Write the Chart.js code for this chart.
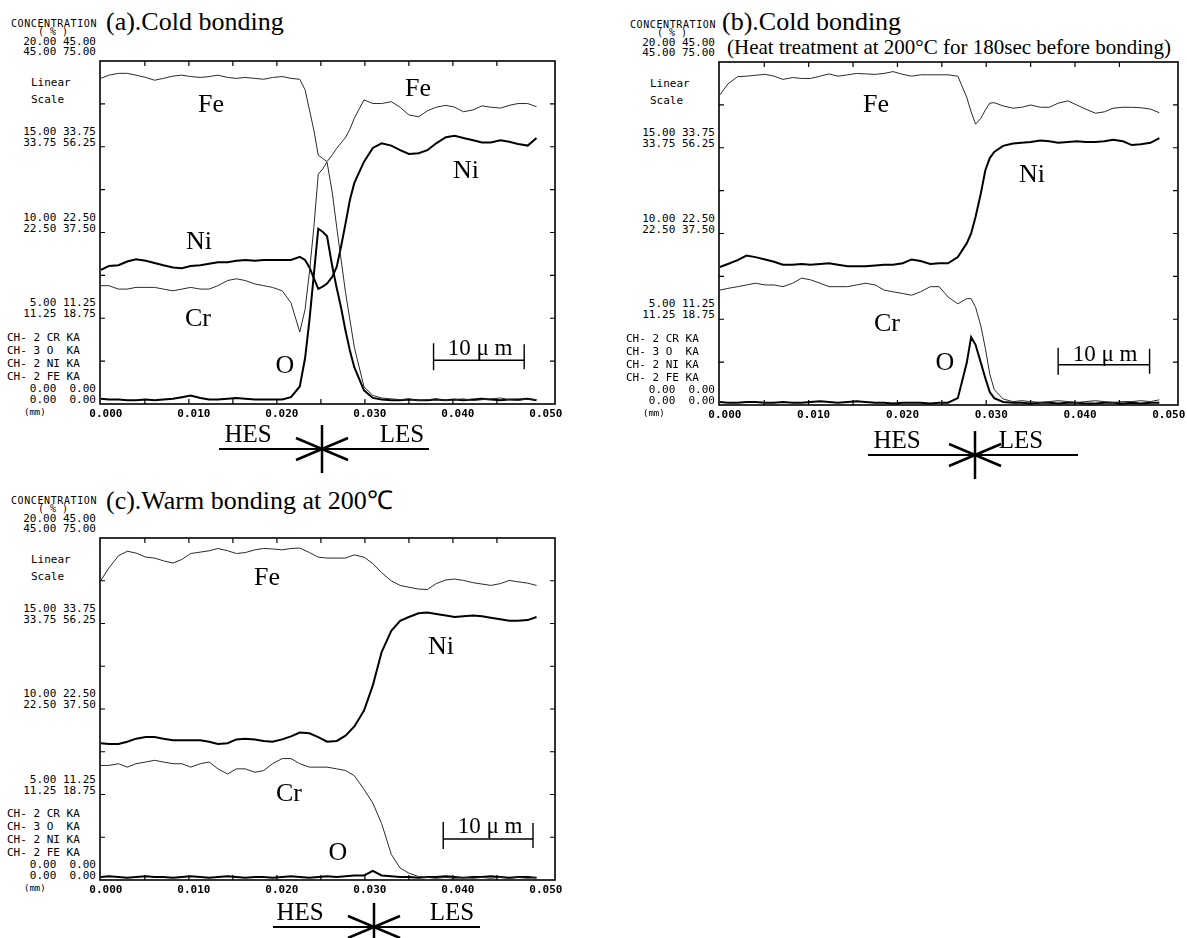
<!DOCTYPE html>
<html>
<head>
<meta charset="utf-8">
<script src="https://cdn.jsdelivr.net/npm/chart.js@4.4.1/dist/chart.umd.min.js"></script>
<style>
  html, body { margin: 0; padding: 0; background: #fff; }
  body { position: relative; width: 1187px; height: 938px; overflow: hidden; }
  .t { position: absolute; white-space: pre; line-height: 1; color: #000; }
  .m { font-family: "DejaVu Sans Mono", monospace; font-size: 11px; }
  .s { font-family: "Liberation Serif", "Times New Roman", serif; }
  canvas { position: absolute; }
  #marks { position: absolute; left: 0; top: 0; }
</style>
</head>
<body>
<svg id="marks" width="1187" height="938"></svg>
<script>
//------------------------------------------ DATA ------------------------------------------

// full scale of each channel (%)
const CR_FS = 20
const O_FS = 45
const NI_FS = 45
const FE_FS = 75

const channels = ['CH- 2 CR KA', 'CH- 3 O  KA', 'CH- 2 NI KA', 'CH- 2 FE KA']
const xTickValues = [0, 0.01, 0.02, 0.03, 0.04, 0.05]
const scaleFractions = [0.75, 0.5, 0.25]

// (a) cold bonding, distance in mm
const posA = [0.0000,0.0009,0.0020,0.0030,0.0040,0.0051,0.0061,0.0071,0.0082,0.0092,0.0102,0.0113,0.0123,0.0133,0.0144,0.0154,0.0164,0.0175,0.0185,0.0195,0.0206,0.0216,0.0226,
  0.0232,0.0237,0.0242,0.0247,0.0252,0.0257,0.0263,0.0268,0.0273,0.0278,0.0283,
  0.0288,0.0299,0.0309,0.0319,0.0330,0.0340,0.0350,0.0361,0.0371,0.0381,0.0392,0.0402,0.0412,0.0423,0.0433,0.0443,0.0454,0.0464,0.0474,0.0485,0.0495]
const feA = [71.2,71.9,72.3,72.3,71.9,71.4,70.8,71.2,71.7,71.9,71.6,71.4,71.6,71.9,71.4,71.2,71.4,71.2,71.0,71.4,71.6,71.2,71.0,
  68.7,64.3,59.9,54.4,53.7,53.0,54.5,55.9,57.1,58.3,60.1,
  62.5,66.5,65.7,65.7,66.1,64.9,63.2,62.8,64.1,64.9,65.3,64.9,63.9,64.3,65.2,64.9,64.7,65.3,65.7,65.7,65.0]
const niA = [17.6,18.1,18.2,18.7,19.0,18.8,18.5,18.2,17.9,17.8,18.1,18.2,18.4,18.6,18.6,18.8,18.9,18.8,18.9,18.9,18.9,18.9,19.3,
  18.9,17.9,16.5,15.1,15.4,15.8,16.7,18.0,20.7,23.7,26.8,
  29.0,31.8,33.6,34.2,33.9,33.3,32.8,32.9,33.3,34.2,35.0,35.2,34.9,34.6,34.3,34.3,34.6,34.4,34.1,33.9,34.9]
const crA = [6.9,6.9,6.7,6.7,6.8,6.8,6.8,6.7,6.6,6.7,6.8,6.7,6.7,6.9,7.2,7.3,7.2,7.0,6.9,6.8,6.6,5.9,4.2,
  5.5,7.7,10.3,13.4,13.7,14.1,12.3,10.3,8.4,6.5,4.9,
  3.3,1.0,0.5,0.35,0.3,0.25,0.3,0.2,0.25,0.3,0.2,0.25,0.3,0.2,0.25,0.3,0.35,0.25,0.2,0.3,0.25]
const oA = [0.7,0.6,0.6,0.5,0.5,0.6,0.5,0.6,0.7,0.9,1.1,0.8,0.6,0.6,0.7,0.8,0.7,0.6,0.6,0.6,0.6,0.9,2.3,
  6.0,11.0,17.0,23.0,22.6,22.0,18.0,15.2,12.6,9.6,7.0,
  4.8,1.8,0.8,0.6,0.5,0.5,0.6,0.5,0.5,0.6,0.5,0.6,0.5,0.6,0.7,0.6,0.5,0.6,0.6,0.7,0.5]

// (b) cold bonding after heat treatment
const posB = [0.0000,0.0009,0.0020,0.0030,0.0040,0.0051,0.0061,0.0071,0.0082,0.0092,0.0102,0.0113,0.0123,0.0133,0.0144,0.0154,0.0164,0.0175,0.0185,0.0195,0.0206,0.0216,0.0226,0.0237,0.0247,0.0257,0.0268,0.0278,
  0.0283,0.0288,0.0294,0.0299,0.0304,
  0.0309,0.0319,0.0330,0.0340,0.0350,0.0361,0.0371,0.0381,0.0392,0.0402,0.0412,0.0423,0.0433,0.0443,0.0454,0.0464,0.0474,0.0485,0.0495]
const feB = [67.8,70.2,71.8,71.9,72.1,72.3,71.9,71.2,71.6,71.4,71.4,71.9,72.4,71.9,72.2,72.5,72.4,72.3,72.5,72.9,72.3,71.9,72.2,72.2,72.2,72.2,71.9,67.3,
  64.1,61.4,62.7,64.5,66.0,
  66.1,65.4,64.9,65.1,65.6,65.1,65.1,66.0,66.5,65.6,64.7,63.8,64.1,64.9,65.1,65.1,65.0,64.7,63.9]
const niB = [18.1,18.5,19.0,19.6,19.4,19.1,18.8,18.4,18.4,18.5,18.4,18.5,18.6,18.4,18.2,18.2,18.2,18.3,18.4,18.4,18.6,19.1,18.9,18.5,18.6,18.6,19.4,21.2,
  22.5,24.7,27.8,30.8,32.4,
  33.2,34.0,34.3,34.4,34.5,34.7,34.6,34.4,34.5,34.6,34.5,34.5,34.6,34.8,34.6,34.1,34.2,34.4,35.0]
const crB = [6.7,6.8,6.9,7.0,7.1,7.0,7.0,6.9,7.1,7.4,7.3,7.1,6.9,6.9,6.9,7.0,7.1,7.0,6.7,6.6,6.5,6.4,6.6,6.9,6.9,6.3,5.9,6.2,
  6.2,5.7,4.6,3.3,1.8,
  0.9,0.35,0.2,0.25,0.2,0.15,0.2,0.25,0.2,0.15,0.2,0.25,0.2,0.15,0.2,0.2,0.25,0.2,0.3]
const oB = [0.4,0.3,0.3,0.4,0.4,0.3,0.3,0.4,0.3,0.3,0.4,0.5,0.4,0.3,0.4,0.5,0.4,0.3,0.3,0.2,0.3,0.3,0.3,0.2,0.3,0.3,0.9,5.5,
  8.9,7.9,5.5,3.5,1.7,
  0.9,0.4,0.3,0.3,0.2,0.3,0.3,0.2,0.3,0.3,0.2,0.2,0.3,0.3,0.2,0.3,0.2,0.3,0.3]

// (c) warm bonding at 200 C
const posC = [0.0000,0.0009,0.0020,0.0030,0.0040,0.0051,0.0061,0.0071,0.0082,0.0092,0.0102,0.0113,0.0123,0.0133,0.0144,0.0154,0.0164,0.0175,0.0185,0.0195,0.0206,0.0216,0.0226,0.0237,0.0247,
  0.0257,0.0268,0.0278,0.0288,0.0299,0.0309,0.0319,0.0330,0.0340,0.0350,0.0361,0.0371,0.0381,0.0392,0.0402,0.0412,0.0423,0.0433,0.0443,0.0454,0.0464,0.0474,0.0485,0.0495]
const feC = [65.7,68.4,71.1,72.1,71.7,70.8,70.6,70.0,69.5,70.3,71.6,71.9,72.2,72.7,72.2,71.6,71.8,72.4,72.7,72.6,72.4,72.7,72.8,71.8,70.8,
  70.6,70.6,70.6,71.3,70.8,69.4,67.4,65.6,64.6,64.2,63.8,63.7,65.0,65.8,66.0,65.7,65.2,64.9,64.6,65.0,65.7,65.4,65.1,64.6]
const niC = [18.0,17.9,17.9,18.2,18.6,18.8,18.8,18.6,18.4,18.4,18.4,18.4,18.2,17.9,18.0,18.5,18.6,18.5,18.3,18.2,18.5,18.9,19.4,19.3,18.8,
  18.2,18.3,19.0,20.2,22.3,25.6,30.0,32.8,34.1,34.6,35.1,35.2,35.0,34.8,34.6,34.7,34.8,34.7,34.5,34.3,34.1,34.1,34.2,34.6]
const crC = [6.7,6.7,6.8,6.6,6.8,6.9,7.0,6.9,6.8,6.8,6.6,6.8,6.9,6.5,6.2,6.5,6.5,6.3,6.4,6.8,7.1,7.1,6.8,6.6,6.6,
  6.6,6.5,6.4,6.1,5.3,4.5,3.3,1.5,0.7,0.4,0.2,0.15,0.1,0.15,0.1,0.15,0.1,0.15,0.1,0.15,0.1,0.15,0.1,0.15]
const oC = [0.4,0.5,0.4,0.3,0.4,0.5,0.4,0.4,0.3,0.4,0.5,0.4,0.3,0.4,0.5,0.4,0.3,0.4,0.4,0.3,0.4,0.5,0.4,0.3,0.4,
  0.5,0.4,0.5,0.6,0.6,1.2,0.6,0.5,0.4,0.4,0.3,0.4,0.4,0.5,0.4,0.3,0.4,0.4,0.5,0.4,0.3,0.4,0.4,0.3]

//------------------------------------------ TEXT HELPERS ------------------------------------------

const marks = document.getElementById('marks')
let svg = ''

function put(str, x, y, cls, size, align){
    const d = document.createElement('div')
    d.className = 't ' + cls
    if(size) d.style.fontSize = size + 'px'
    d.textContent = str
    d.style.left = x + 'px'
    d.style.top = y + 'px'
    let tx = align == 'r' ? '-100%' : align == 'c' ? '-50%' : '0'
    d.style.transform = `translate(${tx},-50%)`
    document.body.appendChild(d)
    return d
}

function fmt(v){ return v.toFixed(2).padStart(5) }

// the plotter's text block left of each plot
function leftBlock(L, T, B){
    const H = B - T
    let c = put('CONCENTRATION', L - 46, T - 37, 'm', 10, 'c')
    c.style.letterSpacing = '0.6px'
    put('( % )', L - 47, T - 29, 'm', 10, 'c')
    put(fmt(CR_FS) + ' ' + fmt(O_FS), L - 4, T - 20, 'm', 11, 'r')
    put(fmt(NI_FS) + ' ' + fmt(FE_FS), L - 4, T - 10, 'm', 11, 'r')
    put('Linear', L - 69, T + 21, 'm', 11, 'l')
    put('Scale', L - 69, T + 38, 'm', 11, 'l')
    for(let f of scaleFractions){
        let ty = B - f * H
        put(fmt(CR_FS * f) + ' ' + fmt(O_FS * f), L - 4, ty - 16, 'm', 11, 'r')
        put(fmt(NI_FS * f) + ' ' + fmt(FE_FS * f), L - 4, ty - 5, 'm', 11, 'r')
    }
    channels.forEach((ch, i) => put(ch, L - 93, B - 67 + i * 13, 'm', 11, 'l'))
    put(fmt(0) + ' ' + fmt(0), L - 4, B - 16, 'm', 11, 'r')
    put(fmt(0) + ' ' + fmt(0), L - 4, B - 5, 'm', 11, 'r')
    put('(mm)', L - 76, B + 8, 'm', 9, 'l')
}

// HES / LES marker under each plot
function hesLes(x0, x1, y, cx, hesX, lesX, ty){
    put('HES', hesX, ty, 's', 25, 'c')
    put('LES', lesX, ty, 's', 25, 'c')
    svg += `<line x1="${x0}" y1="${y}" x2="${x1}" y2="${y}" stroke="#000" stroke-width="2"/>`
    svg += `<line x1="${cx}" y1="${y - 24}" x2="${cx}" y2="${y + 24}" stroke="#000" stroke-width="2.5"/>`
    svg += `<line x1="${cx - 26}" y1="${y - 11}" x2="${cx + 26}" y2="${y + 11}" stroke="#000" stroke-width="2.5"/>`
    svg += `<line x1="${cx - 26}" y1="${y + 11}" x2="${cx + 26}" y2="${y - 11}" stroke="#000" stroke-width="2.5"/>`
}

//------------------------------------------ CHART ------------------------------------------

const framePlugin = {
    id: 'frame',
    afterDatasetsDraw(chart, args, opts){
        const {ctx, chartArea: {left, top, right, bottom}, scales} = chart
        ctx.save()
        ctx.strokeStyle = '#000'
        ctx.lineWidth = 1.6
        ctx.strokeRect(left, top, right - left, bottom - top)
        ctx.lineWidth = 1.2
        ctx.beginPath()
        for(let i = 1; i < 10; i++){
            let px = scales.x.getPixelForValue(i * 0.005)
            ctx.moveTo(px, top); ctx.lineTo(px, top + 5)
            ctx.moveTo(px, bottom); ctx.lineTo(px, bottom - 5)
        }
        for(let i = 1; i < 8; i++){
            let py = scales.yCr.getPixelForValue(i * CR_FS / 8)
            ctx.moveTo(left, py); ctx.lineTo(left + 5, py)
            ctx.moveTo(right, py); ctx.lineTo(right - 5, py)
        }
        ctx.stroke()
        // 10 um scale bar
        let b = opts.bar
        let x0 = scales.x.getPixelForValue(b[0])
        let x1 = scales.x.getPixelForValue(b[1])
        let y = scales.yCr.getPixelForValue(b[2])
        ctx.lineWidth = 1.4
        ctx.beginPath()
        ctx.moveTo(x0, y); ctx.lineTo(x1, y)
        ctx.moveTo(x0, y - 17); ctx.lineTo(x0, y + 10)
        ctx.moveTo(x1, y - 16); ctx.lineTo(x1, y + 9)
        ctx.stroke()
        ctx.restore()
    }
}

function line(pos, vals, axis, w, color){
    return {
        data: pos.map((x, i) => ({x: x, y: vals[i]})),
        yAxisID: axis,
        borderColor: color,
        borderWidth: w,
        pointRadius: 0,
        fill: false,
        tension: 0
    }
}

function makePanel(L, T, R, B, pos, fe, ni, cr, o, bar){
    const cv = document.createElement('canvas')
    const padX = 24, padTop = 12, padBottom = 24
    cv.width = (R - L) + padX * 2
    cv.height = (B - T) + padTop + padBottom
    cv.style.left = (L - padX) + 'px'
    cv.style.top = (T - padTop) + 'px'
    document.body.appendChild(cv)

    new Chart(cv, {
        type: 'line',
        data: {datasets: [
            line(pos, fe, 'yFe', 1, '#2a2a2a'),
            line(pos, cr, 'yCr', 1, '#2a2a2a'),
            line(pos, ni, 'yNi', 2, '#000'),
            line(pos, o, 'yO', 2, '#000')
        ]},
        options: {
            responsive: false,
            animation: false,
            layout: {padding: {left: padX, right: padX, top: padTop, bottom: padBottom - 18}},
            plugins: {legend: {display: false}, tooltip: {enabled: false}, frame: {bar: bar}},
            scales: {
                x: {
                    type: 'linear', min: -0.0001, max: 0.0516,
                    grid: {display: false, drawTicks: false},
                    border: {display: false},
                    afterBuildTicks: s => { s.ticks = xTickValues.map(v => ({value: v})) },
                    afterFit: s => { s.height = 18 },
                    ticks: {
                        padding: 4, labelOffset: 5, autoSkip: false, maxRotation: 0, color: '#000',
                        font: {family: 'DejaVu Sans Mono', size: 11, weight: 'bold'},
                        callback: v => Number(v).toFixed(3)
                    }
                },
                yCr: {display: false, min: 0, max: CR_FS},
                yO: {display: false, min: 0, max: O_FS},
                yNi: {display: false, min: 0, max: NI_FS},
                yFe: {display: false, min: 0, max: FE_FS}
            }
        },
        plugins: [framePlugin]
    })
}

//------------------------------------------ PANEL (a) ------------------------------------------
put('(a).Cold bonding', 106, 22, 's', 26, 'l')
leftBlock(100, 61, 404)
makePanel(100, 61, 555, 404, posA, feA, niA, crA, oA, [0.0378, 0.0481, 2.55])
put('Fe', 211, 104, 's', 26, 'c')
put('Fe', 418, 88, 's', 26, 'c')
put('Ni', 466, 170, 's', 26, 'c')
put('Ni', 199, 241, 's', 26, 'c')
put('Cr', 198, 318, 's', 26, 'c')
put('O', 285, 365, 's', 26, 'c')
put('10 μ m', 480, 347, 's', 23, 'c')
hesLes(219, 429, 449, 322, 248, 402, 433)

//------------------------------------------ PANEL (b) ------------------------------------------
put('(b).Cold bonding', 722, 22, 's', 26, 'l')
put('(Heat treatment at 200°C for 180sec before bonding)', 727, 47, 's', 21, 'l')
leftBlock(719, 62, 405)
makePanel(719, 62, 1178, 405, posB, feB, niB, crB, oB, [0.0381, 0.0484, 2.35])
put('Fe', 876, 104, 's', 26, 'c')
put('Ni', 1032, 174, 's', 26, 'c')
put('Cr', 887, 323, 's', 26, 'c')
put('O', 945, 362, 's', 26, 'c')
put('10 μ m', 1105, 353, 's', 23, 'c')
hesLes(868, 1078, 455, 975, 897, 1021, 439)

//------------------------------------------ PANEL (c) ------------------------------------------
put('(c).Warm bonding at 200℃', 106, 501, 's', 26, 'l')
leftBlock(100, 538, 880)
makePanel(100, 538, 555, 880, posC, feC, niC, crC, oC, [0.0389, 0.0491, 2.4])
put('Fe', 267, 577, 's', 26, 'c')
put('Ni', 441, 646, 's', 26, 'c')
put('Cr', 289, 793, 's', 26, 'c')
put('O', 338, 852, 's', 26, 'c')
put('10 μ m', 490, 825, 's', 23, 'c')
hesLes(273, 480, 927, 374, 300, 452, 911)

marks.innerHTML = svg
</script>
</body>
</html>
